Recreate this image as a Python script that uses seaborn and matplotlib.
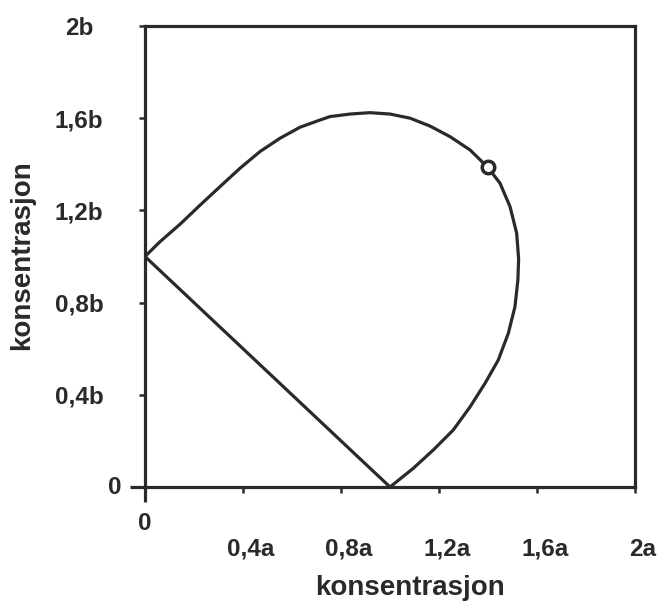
import matplotlib
matplotlib.use("Agg")
import matplotlib.pyplot as plt
import matplotlib.transforms as mtransforms
import seaborn as sns
import pandas as pd

# ---- data ----
curve_x = [0.0, 1.000, 1.095, 1.177, 1.258, 1.327, 1.388, 1.442, 1.483, 1.510, 1.522,
           1.525, 1.517, 1.490, 1.449, 1.399, 1.327, 1.245, 1.163, 1.082, 1.000,
           0.918, 0.837, 0.755, 0.714, 0.633, 0.551, 0.469, 0.388, 0.306, 0.224,
           0.143, 0.061, 0.0]
curve_y = [1.0, 0.000, 0.081, 0.161, 0.247, 0.348, 0.450, 0.551, 0.667, 0.782, 0.898,
           0.990, 1.101, 1.216, 1.318, 1.387, 1.462, 1.520, 1.566, 1.600, 1.618,
           1.624, 1.618, 1.607, 1.592, 1.561, 1.513, 1.455, 1.383, 1.303, 1.222,
           1.140, 1.064, 1.0]
point_x = [1.40]
point_y = [1.388]

x_ticks = [0.4, 0.8, 1.2, 1.6, 2.0]
x_tick_labels = ["0,4a", "0,8a", "1,2a", "1,6a", "2a"]
y_ticks = [0.4, 0.8, 1.2, 1.6, 2.0]
y_tick_labels = ["0,4b", "0,8b", "1,2b", "1,6b", "2b"]
x_label = "konsentrasjon"
y_label = "konsentrasjon"

sns.set_style("white")
plt.rcParams["font.family"] = ["Liberation Sans", "DejaVu Sans"]
plt.rcParams["font.weight"] = "bold"
ink = "#2a2a2a"
fs_tick = 17.5
fs_label = 20

W, H = 657, 605
fig = plt.figure(figsize=(W / 100, H / 100), dpi=100)
L, R, B, T = 145, 635, 487, 26
ax = fig.add_axes([L / W, (H - B) / H, (R - L) / W, (B - T) / H])

df = pd.DataFrame({"x": curve_x, "y": curve_y})
sns.lineplot(data=df, x="x", y="y", sort=False, estimator=None, ax=ax,
             color=ink, linewidth=2.3)
ax.plot(point_x, point_y, linestyle="none", marker="o", markersize=9,
        markerfacecolor="white", markeredgecolor=ink, markeredgewidth=2.5, zorder=5)

ax.set_xlim(0, 2)
ax.set_ylim(0, 2)

for s in ax.spines.values():
    s.set_visible(True)
    s.set_linewidth(2.3)
    s.set_color(ink)

ax.set_xticks(x_ticks, labels=x_tick_labels)
ax.set_yticks(y_ticks, labels=y_tick_labels)
ax.set_xticks([0, 2], minor=True)
ax.set_yticks([0, 2], minor=True)
ax.tick_params(axis="both", which="major", direction="out", length=4.5, width=1.8,
               color=ink, labelcolor=ink, labelsize=fs_tick)
ax.tick_params(axis="x", which="major", pad=32)
ax.tick_params(axis="y", which="major", pad=43)
ax.tick_params(axis="both", which="minor", direction="out", length=11, width=2.3,
               color=ink, labelleft=False, labelbottom=False)
ax.tick_params(axis="x", which="both", bottom=True)
ax.tick_params(axis="y", which="both", left=True)

for lab in ax.get_yticklabels():
    lab.set_ha("center")
    lab.set_fontweight("bold")
offset = mtransforms.ScaledTranslation(8 / 100, 0, fig.dpi_scale_trans)
for lab in ax.get_xticklabels():
    lab.set_transform(lab.get_transform() + offset)
    lab.set_fontweight("bold")

ax.annotate("0", xy=(0, 0), xytext=(0, -37), textcoords="offset pixels",
            ha="center", va="center", fontsize=fs_tick, color=ink, fontweight="bold")
ax.annotate("0", xy=(0, 0), xytext=(-30, 0), textcoords="offset pixels",
            ha="center", va="center", fontsize=fs_tick, color=ink, fontweight="bold")

ax.set_xlabel(x_label, fontsize=fs_label, color=ink, va="center", fontweight="bold")
ax.set_ylabel(y_label, fontsize=fs_label, color=ink, va="center", fontweight="bold")
ax.xaxis.set_label_coords((410 - L) / (R - L), -(588 - B) / (B - T))
ax.yaxis.set_label_coords(-(L - 22) / (R - L), (B - 255) / (B - T))

fig.savefig("out.png", dpi=100, facecolor="white")
